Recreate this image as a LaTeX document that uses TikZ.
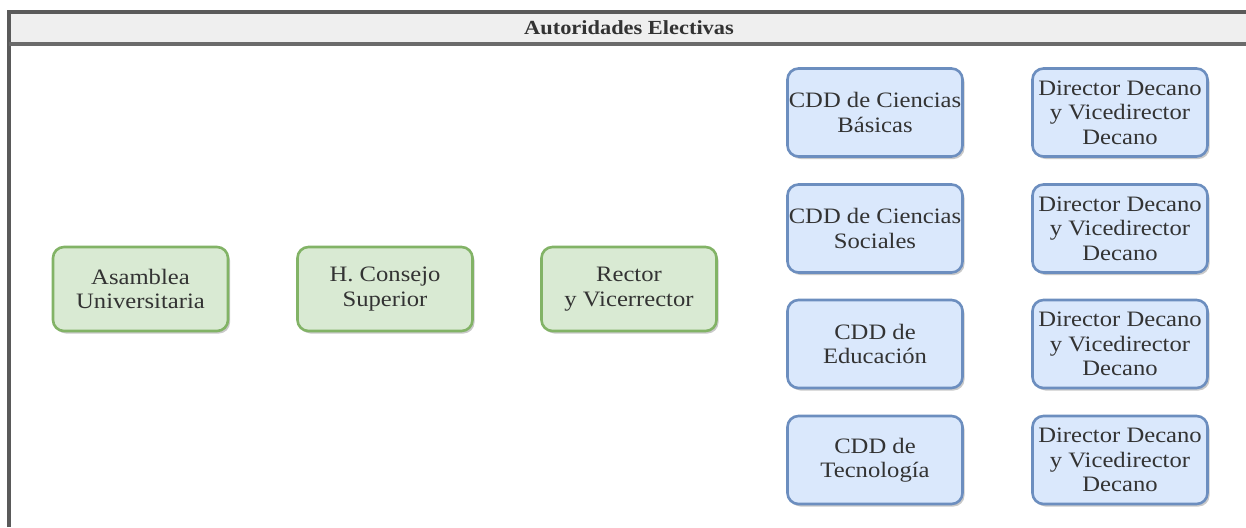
\documentclass[tikz,border=0pt]{standalone}
\usepackage{fontspec}
\setmainfont{Liberation Serif}[FakeStretch=1.12]
\usetikzlibrary{shadows}
\definecolor{gfill}{HTML}{D9EAD3}
\definecolor{gdraw}{HTML}{82B366}
\definecolor{bfill}{HTML}{DAE8FC}
\definecolor{bdraw}{HTML}{6C8EBF}
\definecolor{frame}{HTML}{5A5A5A}
\definecolor{hdr}{HTML}{EFEFEF}
\definecolor{txt}{HTML}{333333}
\tikzset{
  box/.style={rounded corners=11pt, line width=2.6pt, align=center, inner sep=0pt,
    text=txt, font=\fontsize{22}{24.5}\selectfont,
    drop shadow={shadow xshift=2pt, shadow yshift=-2.5pt, opacity=0.35, fill=black!60}},
  gbox/.style={box, fill=gfill, draw=gdraw, minimum width=175pt, minimum height=84pt},
  bbox/.style={box, fill=bfill, draw=bdraw, minimum width=175pt, minimum height=88pt},
  frameline/.style={draw=frame, line width=4pt}
}
\begin{document}
\begin{tikzpicture}[x=1pt,y=-1pt]
\useasboundingbox[fill=white] (0,0) rectangle (1246,527);
% header
\fill[hdr] (9,12) rectangle (1246,44);
\node[font=\fontsize{20}{22}\selectfont\bfseries, text=txt] (title) at (629,28) {Autoridades Electivas};
\draw[frameline] (9,527) -- (9,12) -- (1246,12);
\draw[frameline, draw=frame!90] (9,44) -- (1246,44);
% green boxes
\node[gbox] (asamblea) at (140.5,289) {Asamblea\\Universitaria};
\node[gbox] (consejo) at (385,289) {H. Consejo\\Superior};
\node[gbox] (rector) at (629,289) {Rector\\y Vicerrector};
% blue boxes
\node[bbox] (cdd1) at (875,112.5) {CDD de Ciencias\\Básicas};
\node[bbox] (cdd2) at (875,228.5) {CDD de Ciencias\\Sociales};
\node[bbox] (cdd3) at (875,344) {CDD de\\Educación};
\node[bbox] (cdd4) at (875,460) {CDD de\\Tecnología};
\node[bbox] (dir1) at (1120,112.5) {Director Decano\\y Vicedirector\\Decano};
\node[bbox] (dir2) at (1120,228.5) {Director Decano\\y Vicedirector\\Decano};
\node[bbox] (dir3) at (1120,344) {Director Decano\\y Vicedirector\\Decano};
\node[bbox] (dir4) at (1120,460) {Director Decano\\y Vicedirector\\Decano};
\end{tikzpicture}
\end{document}
